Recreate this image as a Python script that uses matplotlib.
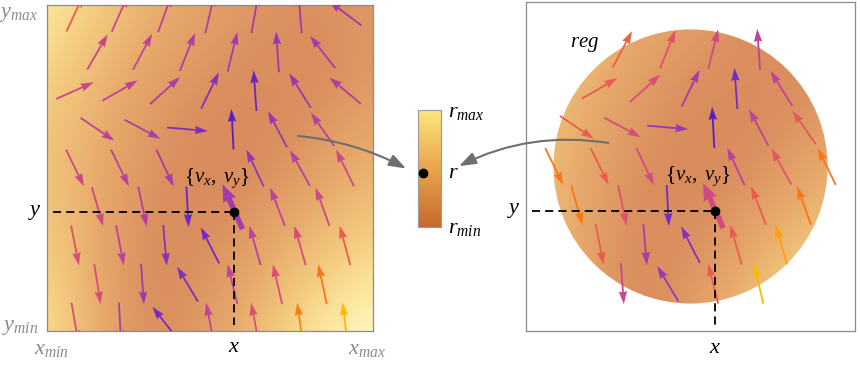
import numpy as np
import matplotlib
matplotlib.use("Agg")
import matplotlib.pyplot as plt
from matplotlib.colors import LinearSegmentedColormap, Normalize
from matplotlib.patches import Circle, ConnectionPatch
from matplotlib import transforms

plt.rcParams["font.family"] = ["Liberation Serif", "DejaVu Serif"]
plt.rcParams["mathtext.fontset"] = "custom"
plt.rcParams["mathtext.rm"] = "Liberation Serif"
plt.rcParams["mathtext.it"] = "Liberation Serif:italic"
plt.rcParams["mathtext.bf"] = "Liberation Serif:bold"

# ------------------------------------------------------------------ data
x_min, x_max = -3.0, 3.0
y_min, y_max = -3.0, 3.0
region_radius = 2.5            # reg = Disk[{0, 0}, 2.5]

density_x = [-3, -2, -1, 0, 1, 2, 3]
density_y = [3, 2, 1, 0, -1, -2, -3]
density_r = [
    [0.92, 0.72, 0.52, 0.40, 0.30, 0.22, 0.34],
    [0.82, 0.60, 0.42, 0.30, 0.20, 0.18, 0.32],
    [0.72, 0.52, 0.34, 0.18, 0.16, 0.25, 0.42],
    [0.68, 0.48, 0.26, 0.12, 0.22, 0.40, 0.56],
    [0.72, 0.46, 0.20, 0.18, 0.38, 0.56, 0.70],
    [0.80, 0.46, 0.16, 0.28, 0.52, 0.74, 0.90],
    [0.88, 0.48, 0.18, 0.38, 0.66, 0.92, 1.00],
]

# vector field {vx, vy} on the staggered sample grid: direction (deg) and norm
nan = float("nan")
arrow_angle_deg = [
    [65, 66, 70, 77, 80, 95, 143],
    [60, 62, 68, 76, 94, 128],
    [24, 30, 42, 64, 94, 122, 140],
    [-34, -28, -5, 93, 118, 125],
    [-64, -64, -65, nan, 115, 119, 116],
    [-74, -78, -87, 114, 111, 110],
    [-79, -79, -85, 117, 106, 106, 105],
    [-81, -86, 121, 104, 103, 102],
    [-80, -87, 128, 101, 101, 98, 97],
]
arrow_magnitude = [
    [0.68, 0.45, 0.38, 0.32, 0.27, 0.27, 0.24],
    [0.45, 0.40, 0.33, 0.27, 0.22, 0.28],
    [0.45, 0.38, 0.30, 0.15, 0.05, 0.22, 0.33],
    [0.38, 0.30, 0.12, 0.00, 0.22, 0.36],
    [0.47, 0.38, 0.28, nan, 0.20, 0.35, 0.47],
    [0.47, 0.33, 0.05, 0.27, 0.38, 0.47],
    [0.55, 0.38, 0.15, 0.08, 0.38, 0.52, 0.68],
    [0.55, 0.25, 0.12, 0.38, 0.55, 0.85],
    [0.55, 0.30, 0.08, 0.42, 0.58, 0.88, 1.00],
]

sample_x, sample_y = 0.44, -0.81        # the marked point {x, y}
sample_row, sample_col = 5, 3           # its highlighted arrow

# ------------------------------------------------------------------ styles
dens_cmap = LinearSegmentedColormap.from_list(
    "dens", [(0.0, "#d27f55"), (0.25, "#dc9160"), (0.5, "#e8ac6c"),
             (0.75, "#f5cf82"), (0.9, "#fce8a0"), (1.0, "#fff8cc")])
arrow_cmap = LinearSegmentedColormap.from_list(
    "arr", [(0.0, "#5a1ec8"), (0.1, "#7c2cc0"), (0.22, "#9a38b0"),
            (0.32, "#ae3ea4"), (0.42, "#c24496"), (0.52, "#d44c7c"),
            (0.62, "#e0546a"), (0.73, "#ee6040"), (0.86, "#f87818"),
            (1.0, "#ffb800")])
legend_cmap = LinearSegmentedColormap.from_list(
    "leg", ["#c8692c", "#e9a44e", "#fde67e"])
GRAY_TXT = "#8c8c8c"
FRAME = "#8c8c8c"
ARROW_LEN = 0.75
FS = 16

# ------------------------------------------------------------------ grid
row_y = np.linspace(2.85, -2.85, len(arrow_angle_deg))
x7 = np.linspace(-2.485, 2.485, 7)
x6 = 0.5 * (x7[:-1] + x7[1:])

points = []
for i, (angs, mags) in enumerate(zip(arrow_angle_deg, arrow_magnitude)):
    xs = x7 if len(angs) == 7 else x6
    for j, (a, m) in enumerate(zip(angs, mags)):
        if np.isnan(a):
            continue
        points.append(dict(x=xs[j], y=row_y[i], a=a, m=m,
                           hl=(i == sample_row and j == sample_col)))

fig = plt.figure(figsize=(8.6, 3.76), dpi=100, facecolor="white")
axL = fig.add_axes([47 / 860, 45 / 376, 326 / 860, 326 / 376])
axR = fig.add_axes([526 / 860, 45 / 376, 329 / 860, 329 / 376])
cax = fig.add_axes([418 / 860, (376 - 227) / 376, 23 / 860, 117 / 376])

dens_norm = Normalize(0, 1)
ext = [density_x[0] - 0.5, density_x[-1] + 0.5,
       density_y[-1] - 0.5, density_y[0] + 0.5]


def draw_arrows(ax, pts, norm):
    normal = [p for p in pts if not p["hl"]]
    hl = [p for p in pts if p["hl"]]
    for group, kw, L in ((normal, dict(width=0.033, headlength=7.2, headwidth=4.6,
                                       headaxislength=6.6), ARROW_LEN),
                         (hl, dict(width=0.1, headlength=3.2, headwidth=2.6,
                                   headaxislength=3.0), 0.9)):
        if not group:
            continue
        X = [p["x"] for p in group]
        Y = [p["y"] for p in group]
        U = [L * np.cos(np.radians(p["a"])) for p in group]
        V = [L * np.sin(np.radians(p["a"])) for p in group]
        C = [p["m"] for p in group]
        ax.quiver(X, Y, U, V, C, cmap=arrow_cmap, norm=norm, units="xy",
                  angles="xy", scale_units="xy", scale=1, pivot="middle",
                  zorder=3, **kw)


def frame(ax):
    ax.set_xlim(x_min, x_max)
    ax.set_ylim(y_min, y_max)
    ax.set_xticks([])
    ax.set_yticks([])
    for s in ax.spines.values():
        s.set_color(FRAME)
        s.set_linewidth(0.9)


def sample_marks(ax):
    ax.plot([-2.89, sample_x], [sample_y, sample_y], color="black", lw=1.3,
            ls=(0, (4.5, 2.8)), zorder=4)
    ax.plot([sample_x, sample_x], [sample_y, -2.89], color="black", lw=1.3,
            ls=(0, (4.5, 2.8)), zorder=4)
    ax.plot([sample_x], [sample_y], "o", color="black", ms=6, zorder=6)
    ax.text(0.13, -0.18, r"$\{v_x,\ v_y\}$", fontsize=15, ha="center",
            va="center", zorder=7)
    tr = transforms.blended_transform_factory(ax.transAxes, ax.transData)
    ax.text(-0.016, sample_y, r"$y$", fontsize=FS, ha="right", va="center",
            transform=tr)
    tr2 = transforms.blended_transform_factory(ax.transData, ax.transAxes)
    ax.text(sample_x, -0.052, r"$x$", fontsize=FS, ha="center", va="center",
            transform=tr2, clip_on=False)


# ---- left panel: full rectangle
axL.imshow(density_r, extent=ext, origin="upper", cmap=dens_cmap, norm=dens_norm,
           interpolation="bicubic", aspect="auto", zorder=1)
all_m = [p["m"] for p in points]
draw_arrows(axL, points, Normalize(min(all_m), max(all_m)))
frame(axL)
sample_marks(axL)
axL.text(-0.025, 0.972, r"$y_{max}$", transform=axL.transAxes, fontsize=FS,
         color=GRAY_TXT, ha="right", va="center")
axL.text(-0.025, 0.012, r"$y_{min}$", transform=axL.transAxes, fontsize=FS,
         color=GRAY_TXT, ha="right", va="center")
axL.text(0.015, -0.058, r"$x_{min}$", transform=axL.transAxes, fontsize=FS,
         color=GRAY_TXT, ha="center", va="center")
axL.text(0.98, -0.058, r"$x_{max}$", transform=axL.transAxes, fontsize=FS,
         color=GRAY_TXT, ha="center", va="center")

# ---- right panel: region reg
imR = axR.imshow(density_r, extent=ext, origin="upper", cmap=dens_cmap,
                 norm=dens_norm, interpolation="bicubic", aspect="auto", zorder=1)
disk = Circle((0, 0), region_radius, transform=axR.transData, fc="none", ec="none")
axR.add_patch(disk)
imR.set_clip_path(disk)
reg_pts = [p for p in points if np.hypot(p["x"], p["y"]) <= region_radius + 0.03]
reg_m = [p["m"] for p in reg_pts]
draw_arrows(axR, reg_pts, Normalize(min(reg_m), max(reg_m)))
frame(axR)
sample_marks(axR)
axR.text(-1.93, 2.22, r"$reg$", fontsize=15, ha="center", va="center")

# ---- legend bar for r
cax.imshow(np.linspace(0, 1, 256)[:, None], origin="lower", cmap=legend_cmap,
           aspect="auto", extent=[0, 1, 0, 1])
cax.set_xticks([])
cax.set_yticks([])
for s in cax.spines.values():
    s.set_color("#9a9a9a")
    s.set_linewidth(0.8)
cax.plot([0.22], [0.46], "o", color="black", ms=6, clip_on=False, zorder=5)
fig.text(448 / 860, 1 - 113 / 376, r"$r_{max}$", fontsize=FS, ha="left", va="center")
fig.text(448 / 860, 1 - 174 / 376, r"$r$", fontsize=FS, ha="left", va="center")
fig.text(448 / 860, 1 - 229 / 376, r"$r_{min}$", fontsize=FS, ha="left", va="center")

# ---- gray pointer arrows
con1 = ConnectionPatch(xyA=(1.62, 0.59), coordsA=axL.transData,
                       xyB=(-0.52, 0.50), coordsB=cax.transAxes,
                       arrowstyle="-|>,head_length=0.85,head_width=0.3",
                       connectionstyle="arc3,rad=-0.1", color="#6f6f6f",
                       lw=1.5, mutation_scale=12, shrinkA=0, shrinkB=0, zorder=10)
con2 = ConnectionPatch(xyA=(-1.50, 0.43), coordsA=axR.transData,
                       xyB=(1.78, 0.52), coordsB=cax.transAxes,
                       arrowstyle="-|>,head_length=0.85,head_width=0.3",
                       connectionstyle="arc3,rad=0.16", color="#6f6f6f",
                       lw=1.5, mutation_scale=12, shrinkA=0, shrinkB=0, zorder=10)
fig.add_artist(con1)
fig.add_artist(con2)

fig.savefig("out.png", dpi=100, facecolor="white")
